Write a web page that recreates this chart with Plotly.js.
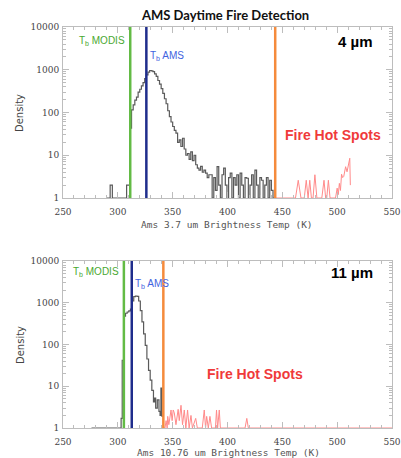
<!DOCTYPE html>
<html>
<head>
<meta charset="utf-8">
<script src="https://cdn.plot.ly/plotly-3.0.1.min.js"></script>
<style>html,body{margin:0;padding:0;background:#fff;}#chart{width:401px;height:458px;}</style>
</head>
<body>
<div id="chart"></div>
<script>
// ---------- data ----------
// Top panel: 3.7 um histogram (step, bin left edges)
const tempTop = [290,293,295,308,311,312.5,314,315.5,317,318.5,320,321.5,323,324.5,326,327.5,329,330.5,332,333.5,335,336.5,338,339.5,341,342.5,344,345.5,347,348.5,350,351.5,353,354.5,356,357.5,359,360.5,362,363.5,365,366.5,368,369.5,371,372.5,374,375.5,377,378.5,380,381.5,383,384.5,386,387.5,389,390.5,392,393.5,395,396.5,398,399.5,401,402.5,404,405.5,407,408.5,410,411.5,413,414.5,416,417.5,419,420.5,422,423.5,425,426.5,428,429.5,431,432.5,434,435.5,437,438.5,440,441.5,443];
const countTop = [1,2,1,2,43,115,150,195,230,300,350,420,500,620,760,880,960,940,900,800,700,560,460,360,280,210,160,110,80,60,47,38,33,20,23,16,25,14,10,11,8,12,7.5,10,6,5,4.5,5.5,4,4.5,3.8,3,3.5,3.5,1,3,1.5,5.4,2,1,3.5,5,2,1,3,3.8,1,3,2,3.5,1,3.8,2,1,3,2.9,1,2,3.5,1,4.5,2,1,3,2.6,1,2,3,1,2.6,1.5,1,1];
// Top panel: fire hot spot pixels
const fireTempTop = [443,462,464.5,467,470,471.8,473.5,475,476.5,478,479.7,481.5,486,488,489.5,490.5,492,493.5,498.5,500,501,502,503,504,505,506,507.7,509,511.5,512];
const fireCountTop = [1,1,2.6,1,1,2.6,1,2.6,1,1,3.5,1,1,2.6,1,1,2.6,1,1,1.7,1.2,2.2,1.5,3.6,3.0,3.2,5.4,4.1,8.5,2];
// Bottom panel: 10.76 um histogram
const tempBot = [276,303,304,305.5,307,308.5,310,311.5,313,314.5,316,317.5,319,320.5,322,323.5,325,326.5,328,329.5,331,332.5,333.5,334.5,336,337.5,338.5,339.3,340.3,341.3];
const countBot = [1,1.7,42,480,560,600,640,700,1100,1400,1450,1420,1100,650,350,180,95,45,24,14,8,4.2,5.2,3,4.7,2.5,2,9,1.9,1.9];
const fireTempBot = [341.3,343,344,345,345.5,346.5,348.5,349.5,350.5,351.5,353,355,356,357.6,359,360.6,362,363.6,365,366.7,368,371,372.5,377,378.8,380,381,382.5,384,385.5,389,390,391,392.5,393.5,416,417.6,419,550];
const fireCountBot = [1,1,1.5,1,1.9,1.2,2.7,1.5,2.7,2.3,1.2,2.8,1.5,3.5,1.2,2.7,1,2.7,1,2,1,1.7,1,1,2.7,1,1.9,1,1.9,1,1,2.7,1,2.7,1,1,1.7,1,1];
// Threshold lines [Tb MODIS, Tb AMS, fire threshold]
const linesTop = [311.3, 326, 443.5];
const linesBot = [305.5, 312.7, 341.5];
const xTicks = [250,300,350,400,450,500,550];
const yTicks = [1,10,100,1000,10000];
const yTickText = ['1','10','100','1000','10000'];
const xTitles = ['Ams 3.7 um Brightness Temp (K)', 'Ams 10.76 um Brightness Temp (K)'];
const bandLabels = ['4 µm', '11 µm'];

// ---------- styling ----------
const W = 401, H = 458;
const px = v => v / W, py = v => 1 - v / H;
const frameCol = '#bdbdbd';
const tickFont = {family: 'DejaVu Serif, serif', size: 9, color: '#444'};
const titleFont = {family: 'DejaVu Sans Mono, monospace', size: 9.5, color: '#555'};
const lineCols = ['#63bb45', '#1f2d8c', '#f58b3c'];
const minorY = [];
[1,10,100,1000].forEach(d => { for (let k = 2; k <= 9; k++) minorY.push(k*d); });

function xaxis(dom, anchor) {
  return {domain: dom, anchor: anchor, range: [250,550], tickmode: 'array', tickvals: xTicks,
    ticks: 'inside', ticklen: 6, tickcolor: frameCol, showline: true, linecolor: frameCol, linewidth: 1,
    mirror: 'ticks', showgrid: false, zeroline: false, tickfont: tickFont, ticklabelstandoff: 5,
    minor: {tickmode: 'linear', tick0: 250, dtick: 10, ticks: 'inside', ticklen: 3, tickcolor: frameCol, showgrid: false}};
}
function yaxis(dom, anchor) {
  return {domain: dom, anchor: anchor, type: 'log', range: [0,4], tickmode: 'array', tickvals: yTicks, ticktext: yTickText,
    ticks: 'inside', ticklen: 6, tickcolor: frameCol, showline: true, linecolor: frameCol, linewidth: 1,
    mirror: 'ticks', showgrid: false, zeroline: false, tickfont: tickFont, ticklabelstandoff: 1,
    minor: {tickmode: 'array', tickvals: minorY, ticks: 'inside', ticklen: 3, tickcolor: frameCol, showgrid: false}};
}

const traces = [
  {x: tempTop, y: countTop, xaxis: 'x', yaxis: 'y', mode: 'lines', line: {shape: 'hv', color: '#5a5a5a', width: 1.2}, hoverinfo: 'skip'},
  {x: fireTempTop, y: fireCountTop, xaxis: 'x', yaxis: 'y', mode: 'lines', line: {color: '#ff8a8a', width: 1}, hoverinfo: 'skip'},
  {x: tempBot, y: countBot, xaxis: 'x2', yaxis: 'y2', mode: 'lines', line: {shape: 'hv', color: '#5a5a5a', width: 1.2}, hoverinfo: 'skip'},
  {x: fireTempBot, y: fireCountBot, xaxis: 'x2', yaxis: 'y2', mode: 'lines', line: {color: '#ff8a8a', width: 1}, hoverinfo: 'skip'}
];

const shapes = [];
linesTop.forEach((v, i) => shapes.push({type: 'line', xref: 'x', yref: 'y domain', x0: v, x1: v, y0: 0, y1: 1, line: {color: lineCols[i], width: 2.5}}));
linesBot.forEach((v, i) => shapes.push({type: 'line', xref: 'x2', yref: 'y2 domain', x0: v, x1: v, y0: 0, y1: 1, line: {color: lineCols[i], width: 2.5}}));

const sans = 'Liberation Sans, Arial, sans-serif';
function ann(text, x, y, opts) {
  return Object.assign({text: text, xref: 'paper', yref: 'paper', x: px(x), y: py(y), showarrow: false,
    xanchor: 'center', yanchor: 'middle'}, opts);
}
const annotations = [
  ann('<b>AMS Daytime Fire Detection</b>', 225, 15, {font: {family: 'Lato, sans-serif', size: 13, color: '#111'}}),
  ann('T<sub>b</sub> MODIS', 127, 41, {xanchor: 'right', font: {family: sans, size: 10, color: '#4aa830'}}),
  ann('T<sub>b</sub> AMS', 148, 56, {xanchor: 'left', font: {family: sans, size: 10, color: '#3f63e0'}}),
  ann('<b>' + bandLabels[0] + '</b>', 375, 42, {xanchor: 'right', font: {family: sans, size: 15, color: '#000'}}),
  ann('<b>Fire Hot Spots</b>', 383, 135, {xanchor: 'right', font: {family: sans, size: 14, color: '#f03a3a'}}),
  ann('Density', 20, 113, {textangle: -90, font: {family: 'DejaVu Sans, sans-serif', size: 10, color: '#444'}}),
  ann(xTitles[0], 227, 224, {font: titleFont}),
  ann('T<sub>b</sub> MODIS', 121, 272, {xanchor: 'right', font: {family: sans, size: 10, color: '#4aa830'}}),
  ann('T<sub>b</sub> AMS', 133, 284, {xanchor: 'left', font: {family: sans, size: 10, color: '#3f63e0'}}),
  ann('<b>' + bandLabels[1] + '</b>', 375, 272, {xanchor: 'right', font: {family: sans, size: 15, color: '#000'}}),
  ann('<b>Fire Hot Spots</b>', 305, 374, {xanchor: 'right', font: {family: sans, size: 14, color: '#f03a3a'}}),
  ann('Density', 20, 345, {textangle: -90, font: {family: 'DejaVu Sans, sans-serif', size: 10, color: '#444'}}),
  ann(xTitles[1], 228, 452, {font: titleFont})
];

const layout = {
  width: W, height: H, margin: {l: 0, r: 0, t: 0, b: 0}, showlegend: false,
  paper_bgcolor: '#fff', plot_bgcolor: '#fff',
  xaxis: xaxis([px(63), px(392)], 'y'),
  yaxis: yaxis([py(198), py(27)], 'x'),
  xaxis2: xaxis([px(63), px(392)], 'y2'),
  yaxis2: yaxis([py(428), py(261)], 'x2'),
  shapes: shapes, annotations: annotations
};

Plotly.newPlot('chart', traces, layout, {staticPlot: true, displayModeBar: false});
</script>
</body>
</html>
